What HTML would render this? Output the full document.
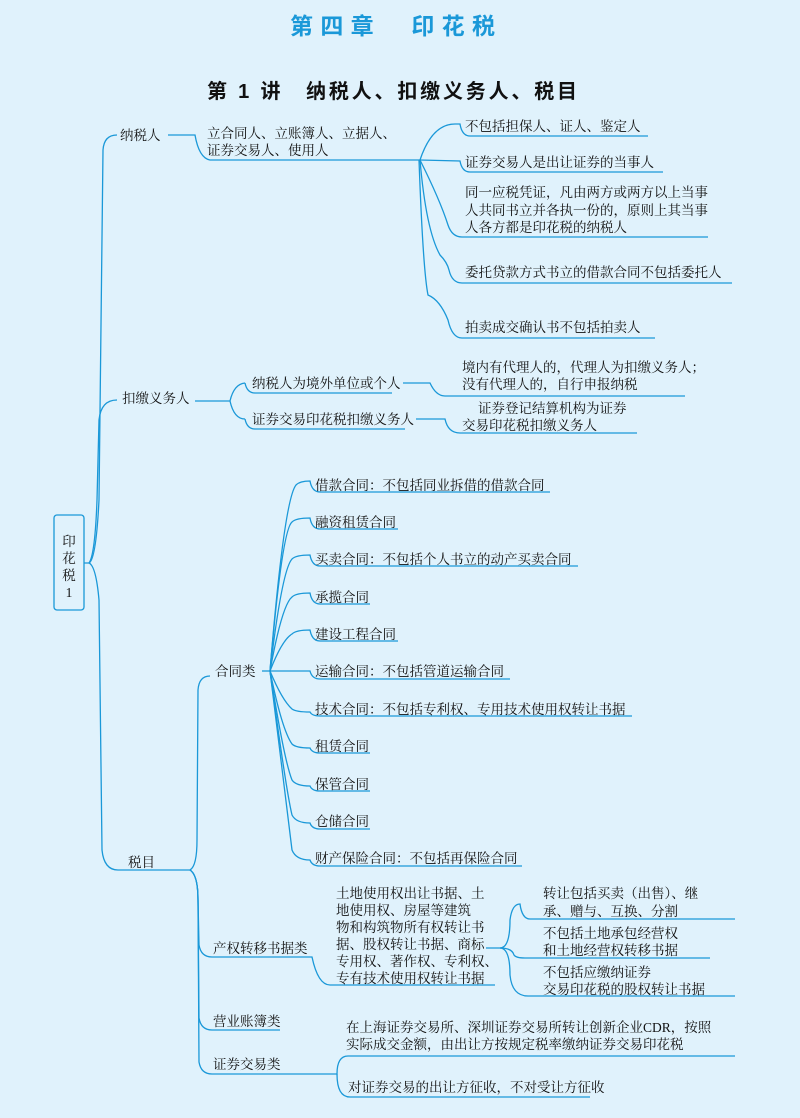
<!DOCTYPE html>
<html><head><meta charset="utf-8">
<style>
html,body{margin:0;padding:0;background:#e0f2fc;}
svg{display:block;}
text{font-family:"Liberation Serif","Noto Serif CJK SC","Noto Sans CJK SC",serif;font-size:13.5px;fill:#111;}
.t{font-family:"Liberation Sans","Noto Sans CJK SC",sans-serif;}
path,line{fill:none;stroke:#1a98d8;stroke-width:1.3;}
</style></head>
<body>
<svg width="800" height="1118" viewBox="0 0 800 1118" xmlns="http://www.w3.org/2000/svg">
<rect width="800" height="1118" fill="#e0f2fc" stroke="none"/>
<text class="t" x="290" y="34" textLength="205" lengthAdjust="spacing" style="font-size:23px;font-weight:bold;fill:#1a98d8">第四章　印花税</text>
<text class="t" x="207" y="98" textLength="370" lengthAdjust="spacing" style="font-size:20px;font-weight:bold;fill:#111">第 1 讲　纳税人、扣缴义务人、税目</text>

<!-- root -->
<rect x="54" y="515" width="30" height="95" rx="3" fill="none" stroke="#1a98d8" stroke-width="1.3"/>
<text x="69" y="546" text-anchor="middle">印</text>
<text x="69" y="563" text-anchor="middle">花</text>
<text x="69" y="580" text-anchor="middle">税</text>
<text x="69" y="597" text-anchor="middle">1</text>

<!-- main trunk -->
<path d="M84,563 L89,563 M89,563 Q96,560 99,500 L103,150 Q104,135 117,135"/>
<path d="M89,563 Q96,566 99,600 L102,850 Q104,870 118,870 L170,870"/>
<path d="M89,563 Q95,555 97,500 L99,420 Q101,400 117,400"/>

<!-- 纳税人 -->
<text x="120" y="140">纳税人</text>
<path d="M168,135 L195,135 Q199,158 210,160 L420,160"/>
<text x="207" y="138">立合同人、立账簿人、立据人、</text>
<text x="207" y="155">证券交易人、使用人</text>
<path d="M420,160 Q432,124 455,124 L460,124 Q462,136 470,136 L648,136"/>
<path d="M420,160 L460,161 Q462,172 470,172 L663,172"/>
<path d="M420,160 Q440,200 448,225 Q452,237 462,237 L708,237"/>
<path d="M420,160 Q426,230 440,255 Q447,262 449,270 Q452,283 462,283 L732,283"/>
<path d="M419,160 Q423,270 428,295 Q440,300 448,320 Q452,338 462,338 L655,338"/>
<text x="465" y="131">不包括担保人、证人、鉴定人</text>
<text x="465" y="167">证券交易人是出让证券的当事人</text>
<text x="465" y="197">同一应税凭证，凡由两方或两方以上当事</text>
<text x="465" y="215">人共同书立并各执一份的，原则上其当事</text>
<text x="465" y="232">人各方都是印花税的纳税人</text>
<text x="465" y="277">委托贷款方式书立的借款合同不包括委托人</text>
<text x="465" y="332">拍卖成交确认书不包括拍卖人</text>

<!-- 扣缴义务人 -->
<text x="122" y="403">扣缴义务人</text>
<path d="M195,401 L230,401 M230,401 Q234,384 245,383 M230,401 Q234,419 245,419"/>
<path d="M245,383 Q247,393 255,393 L392,393"/>
<path d="M245,419 Q247,429 255,429 L405,429"/>
<text x="252" y="388">纳税人为境外单位或个人</text>
<text x="252" y="424">证券交易印花税扣缴义务人</text>
<path d="M403,383 L430,383 Q436,396 445,396 L685,396"/>
<text x="462" y="372">境内有代理人的，代理人为扣缴义务人；</text>
<text x="462" y="389">没有代理人的，自行申报纳税</text>
<path d="M416,419 L445,419 Q448,433 460,433 L637,433"/>
<text x="478" y="413">证券登记结算机构为证券</text>
<text x="462" y="430">交易印花税扣缴义务人</text>

<!-- 税目 -->
<text x="128" y="867">税目</text>
<path d="M170,870 L190,870 Q197,866 197,840 L198,690 Q199,676 210,676"/>
<path d="M190,870 Q198,875 198,900 L199,945 Q201,957 212,957 L305,957"/>
<path d="M190,870 Q198,875 198,900 L199,1018 Q201,1030 212,1030 L280,1030"/>
<path d="M190,870 Q198,875 198,900 L199,1062 Q201,1074 212,1074 L330,1074"/>
<text x="215" y="676">合同类</text>
<text x="213" y="953">产权转移书据类</text>
<text x="213" y="1026">营业账簿类</text>
<text x="213" y="1069">证券交易类</text>

<!-- 合同类 fan -->
<path d="M262,671 L270,671"/>
<g>
<path d="M270,671 Q284,500 296,485 Q300,481 310,481 Q312,492 320,492 L550,492"/>
<path d="M270,671 Q282,530 292,522 Q296,518 310,518 Q312,529 320,529 L398,529"/>
<path d="M270,671 Q282,570 292,559 Q296,555 310,555 Q312,566 320,566 L578,566"/>
<path d="M270,671 Q282,605 292,597 Q296,593 310,593 Q312,604 320,604 L370,604"/>
<path d="M270,671 Q282,640 292,634 Q296,630 310,630 Q312,641 320,641 L398,641"/>
<path d="M270,671 L310,671 Q312,679 320,679 L510,679"/>
<path d="M270,671 Q282,700 292,709 Q296,712 310,712 Q312,716 320,716 L632,716"/>
<path d="M270,671 Q282,730 292,744 Q296,748 310,748 Q312,753 320,753 L370,753"/>
<path d="M270,671 Q284,760 292,780 Q296,786 310,786 Q312,791 320,791 L370,791"/>
<path d="M270,671 Q286,790 292,815 Q296,823 310,823 Q312,829 320,829 L370,829"/>
<path d="M270,671 Q288,820 292,850 Q296,860 310,860 Q312,866 320,866 L522,866"/>
</g>
<text x="315" y="490">借款合同：不包括同业拆借的借款合同</text>
<text x="315" y="527">融资租赁合同</text>
<text x="315" y="564">买卖合同：不包括个人书立的动产买卖合同</text>
<text x="315" y="602">承揽合同</text>
<text x="315" y="639">建设工程合同</text>
<text x="315" y="676">运输合同：不包括管道运输合同</text>
<text x="315" y="714">技术合同：不包括专利权、专用技术使用权转让书据</text>
<text x="315" y="751">租赁合同</text>
<text x="315" y="789">保管合同</text>
<text x="315" y="826">仓储合同</text>
<text x="315" y="863">财产保险合同：不包括再保险合同</text>

<!-- 产权转移 -->
<path d="M305,957 L312,957 Q318,985 330,985 L495,985"/>
<text x="336" y="898">土地使用权出让书据、土</text>
<text x="336" y="915">地使用权、房屋等建筑</text>
<text x="336" y="932">物和构筑物所有权转让书</text>
<text x="336" y="949">据、股权转让书据、商标</text>
<text x="336" y="966">专用权、著作权、专利权、</text>
<text x="336" y="983">专有技术使用权转让书据</text>
<path d="M486,948 L500,948 Q510,948 510,920 Q512,904 520,904 Q522,919 530,919 L735,919"/>
<path d="M500,948 Q512,948 514,955 Q516,958 525,958 L710,958"/>
<path d="M500,948 Q510,948 510,975 Q512,996 528,996 L735,996"/>
<text x="543" y="898">转让包括买卖（出售）、继</text>
<text x="543" y="916">承、赠与、互换、分割</text>
<text x="543" y="938">不包括土地承包经营权</text>
<text x="543" y="955">和土地经营权转移书据</text>
<text x="543" y="977">不包括应缴纳证券</text>
<text x="543" y="994">交易印花税的股权转让书据</text>

<!-- 证券交易类 -->
<path d="M330,1074 L337,1074 Q337,1056 348,1056 L735,1056"/>
<path d="M337,1074 Q337,1097 350,1097 L590,1097"/>
<text x="346" y="1032">在上海证券交易所、深圳证券交易所转让创新企业CDR，按照</text>
<text x="346" y="1049">实际成交金额，由出让方按规定税率缴纳证券交易印花税</text>
<text x="348" y="1092">对证券交易的出让方征收，不对受让方征收</text>
</svg>
</body></html>
